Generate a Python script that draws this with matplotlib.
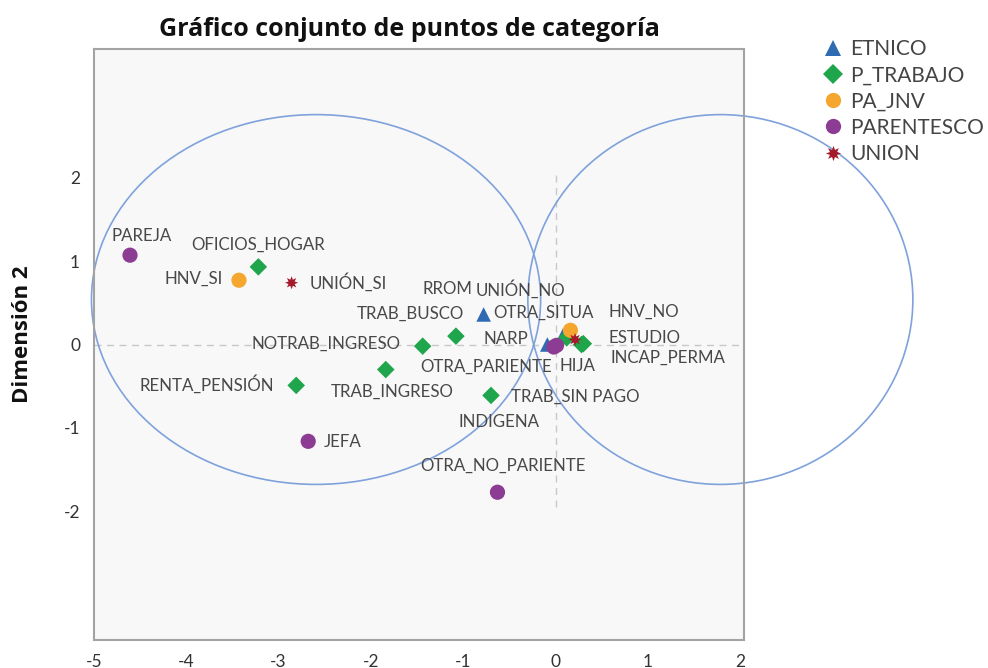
import matplotlib
matplotlib.use("Agg")
import matplotlib.pyplot as plt
from matplotlib.patches import Ellipse
from matplotlib.lines import Line2D

plt.rcParams["font.family"] = ["Lato", "DejaVu Sans"]
plt.rcParams["axes.unicode_minus"] = False

# ---------- datos: coordenadas de las categorías ----------
etnico_names = ["RROM", "INDIGENA", "NARP"]
etnico_x = [-0.78, 0.08, -0.09]
etnico_y = [0.36, 0.11, 0.0]

trabajo_names = ["OFICIOS_HOGAR", "TRAB_BUSCO", "NOTRAB_INGRESO", "TRAB_INGRESO",
                 "RENTA_PENSIÓN", "TRAB_SIN PAGO", "OTRA_SITUA", "ESTUDIO", "INCAP_PERMA"]
trabajo_x = [-3.22, -1.08, -1.44, -1.84, -2.81, -0.70, 0.12, 0.30, 0.28]
trabajo_y = [0.93, 0.10, -0.02, -0.30, -0.49, -0.61, 0.08, 0.01, 0.0]

jnv_names = ["HNV_SI", "HNV_NO"]
jnv_x = [-3.43, 0.16]
jnv_y = [0.77, 0.17]

parentesco_names = ["PAREJA", "JEFA", "OTRA_NO_PARIENTE", "OTRA_PARIENTE", "HIJA"]
parentesco_x = [-4.61, -2.68, -0.63, -0.02, 0.01]
parentesco_y = [1.07, -1.16, -1.77, -0.03, -0.01]

union_names = ["UNIÓN_SI", "UNIÓN_NO"]
union_x = [-2.86, 0.21]
union_y = [0.74, 0.06]

x_ticks = [-5, -4, -3, -2, -1, 0, 1, 2]
y_ticks = [-2, -1, 0, 1, 2]

# ---------- estilo de cada grupo ----------
groups = [
    ("ETNICO", etnico_names, etnico_x, etnico_y, "^", "#2f6bb3", 110),
    ("P_TRABAJO", trabajo_names, trabajo_x, trabajo_y, "D", "#1fa54c", 80),
    ("PA_JNV", jnv_names, jnv_x, jnv_y, "o", "#f5a62e", 120),
    ("PARENTESCO", parentesco_names, parentesco_x, parentesco_y, "o", "#8c3c92", 120),
    ("UNION", union_names, union_x, union_y, (8, 1, 0), "#a31a2b", 90),
]

# desplazamiento de etiquetas (pixeles) y alineación
label_offsets = {
    "RROM": (-61, 25, "left"), "INDIGENA": (-105, -87, "left"), "NARP": (-19, 5, "right"),
    "OFICIOS_HOGAR": (-67, 22, "left"), "TRAB_BUSCO": (8, 22, "right"),
    "NOTRAB_INGRESO": (-22, 2, "right"), "TRAB_INGRESO": (-55, -22, "left"),
    "RENTA_PENSIÓN": (-22, 1, "right"), "TRAB_SIN PAGO": (20, -1, "left"),
    "OTRA_SITUA": (-73, 25, "left"), "ESTUDIO": (25, 6, "left"),
    "INCAP_PERMA": (29, -13, "left"), "HNV_SI": (-16, 1, "right"),
    "HNV_NO": (38, 19, "left"), "PAREJA": (-19, 19, "left"), "JEFA": (16, -1, "left"),
    "OTRA_NO_PARIENTE": (-77, 26, "left"), "OTRA_PARIENTE": (-134, -20, "left"),
    "HIJA": (3, -21, "left"), "UNIÓN_SI": (18, 0, "left"), "UNIÓN_NO": (-99, 50, "left"),
}

fig = plt.figure(figsize=(9.88, 6.68), dpi=100)
ax = fig.add_axes([94 / 988, 1 - 640 / 668, 650 / 988, 591 / 668])
ax.set_facecolor("#f8f8f8")
ax.set_xlim(-4.99, 2.04)
ax.set_ylim(-3.54, 3.54)

# líneas de referencia en cero
ax.plot([-5, 2], [0, 0], ls=(0, (5, 4)), color="#c8c8c8", lw=1, zorder=1)
ax.plot([0, 0], [-1.95, 2.04], ls=(0, (5, 4)), color="#c8c8c8", lw=1, zorder=1)

# elipses dibujadas encima del gráfico
for (cx, cy), w, h in [((-2.595, 0.539), 4.865, 4.43), ((1.784, 0.539), 4.17, 4.43)]:
    ax.add_patch(Ellipse((cx, cy), w, h, fill=False, edgecolor="#7fa2dc",
                         lw=1.2, clip_on=False, zorder=2))

handles = []
for gname, names, xs, ys, marker, color, size in groups:
    ax.scatter(xs, ys, marker=marker, s=size, color=color, edgecolors="none", zorder=3)
    for n, x, y in zip(names, xs, ys):
        dx, dy, ha = label_offsets[n]
        ax.annotate(n, (x, y), xytext=(dx, dy), textcoords="offset pixels",
                    ha=ha, va="center", fontsize=12.2, color="#484848", zorder=4)
    handles.append(Line2D([], [], ls="none", marker=marker, color=color,
                          markersize=11 if marker != "D" else 10, markeredgewidth=0))

ax.set_xticks(x_ticks)
ax.set_yticks(y_ticks)
ax.tick_params(length=0, labelsize=12.5, labelcolor="#333333", pad=10)
for s in ax.spines.values():
    s.set_color("#a3a3a3")
    s.set_linewidth(1.5)

fig.legend(handles, [g[0] for g in groups], loc="upper left",
           bbox_to_anchor=(824 / 988, 1 - 39 / 668), frameon=False, fontsize=15,
           handlelength=0.9, handletextpad=0.35, labelspacing=0.3,
           borderpad=0, borderaxespad=0, labelcolor="#444444")

fig.text(409 / 988, 1 - 29 / 668, "Gráfico conjunto de puntos de categoría",
         ha="center", va="center", fontsize=18, fontweight="bold",
         family=["Open Sans", "DejaVu Sans"], color="#111111")
fig.text(23 / 988, 1 - 334 / 668, "Dimensión 2", rotation=90, ha="center",
         va="center", fontsize=16, fontweight="bold",
         family=["Open Sans", "DejaVu Sans"], color="#111111")

fig.savefig("out.png", dpi=100)
